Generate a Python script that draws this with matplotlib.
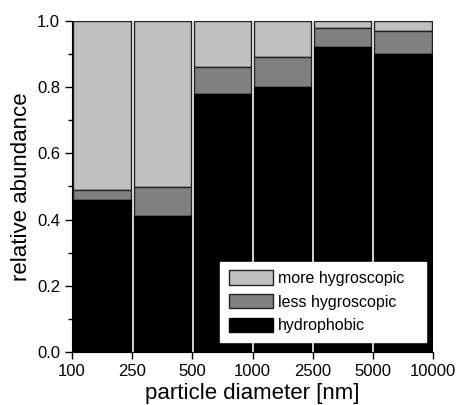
import numpy as np
import matplotlib.pyplot as plt

plt.rcParams['font.family'] = ['Liberation Sans', 'DejaVu Sans']

edges = ['100', '250', '500', '1000', '2500', '5000', '10000']
hydrophobic = [0.46, 0.41, 0.78, 0.80, 0.92, 0.90]
less_hygro = [0.03, 0.09, 0.08, 0.09, 0.06, 0.07]
more_hygro = [0.51, 0.50, 0.14, 0.11, 0.02, 0.03]

x = np.arange(len(hydrophobic)) + 0.5
w = 0.955

fig = plt.figure(figsize=(4.58, 4.05), dpi=100)
ax = fig.add_axes([72 / 458, 1 - 352 / 405, (433 - 72) / 458, (352 - 21) / 405])

h = np.array(hydrophobic)
l = np.array(less_hygro)
m = np.array(more_hygro)
b3 = ax.bar(x, m, w, bottom=h + l, color='#c0c0c0', edgecolor='#222222', linewidth=1.0,
            label='more hygroscopic')
b2 = ax.bar(x, l, w, bottom=h, color='#808080', edgecolor='#222222', linewidth=1.0,
            label='less hygroscopic')
b1 = ax.bar(x, h, w, color='black', edgecolor='black', linewidth=1.0, label='hydrophobic')

ax.set_xlim(0, 6)
ax.set_ylim(0, 1.0)
ax.set_xticks(np.arange(7))
ax.set_xticklabels(edges)
ax.set_yticks(np.arange(0, 1.01, 0.2))
ax.set_yticklabels(['%.1f' % v for v in np.arange(0, 1.01, 0.2)])
ax.set_yticks(np.arange(0.1, 1.0, 0.2), minor=True)
ax.tick_params(axis='both', which='major', direction='out', length=5, width=1, labelsize=12)
ax.tick_params(axis='y', which='minor', direction='out', length=3, width=1)
ax.spines['top'].set_visible(False)
ax.spines['right'].set_visible(False)

ax.set_xlabel('particle diameter [nm]', fontsize=16, labelpad=3)
ax.set_ylabel('relative abundance', fontsize=16, labelpad=4)

leg = ax.legend(handles=[b3, b2, b1], loc='lower left', bbox_to_anchor=(0.41, 0.03, 0.571, 0.2),
                mode='expand', frameon=True, fancybox=False, edgecolor='white', framealpha=1,
                fontsize=11.5, handlelength=2.75, handleheight=1.0, handletextpad=0.3,
                labelspacing=0.5, borderpad=0.55, borderaxespad=0)

fig.savefig('out.png', dpi=100)
